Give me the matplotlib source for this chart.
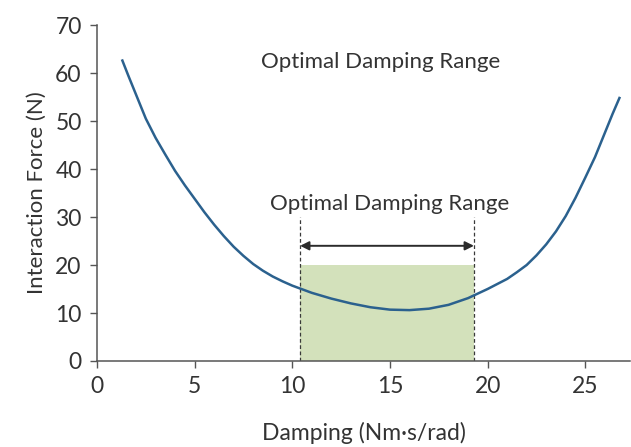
import numpy as np
import matplotlib
matplotlib.use("Agg")
import matplotlib.pyplot as plt

plt.rcParams['font.family'] = ['Lato', 'DejaVu Sans']
plt.rcParams['font.size'] = 14

# values
damping = [1.3, 1.6, 2.0, 2.5, 3.0, 3.5, 4.0, 4.5, 5.0, 5.5, 6.0, 6.5, 7.0,
           7.5, 8.0, 8.5, 9.0, 9.5, 10, 11, 12, 13, 14, 15, 16, 17, 18, 19,
           20, 21, 21.5, 22, 22.5, 23, 23.5, 24, 24.5, 25, 25.5, 26, 26.4, 26.75]
force = [62.6, 59.5, 55.5, 50.5, 46.5, 43.0, 39.6, 36.6, 33.8, 31.0, 28.4,
         26.0, 23.8, 21.9, 20.2, 18.8, 17.6, 16.6, 15.7, 14.2, 13.0, 12.0,
         11.2, 10.7, 10.6, 10.9, 11.7, 13.1, 15.0, 17.1, 18.5, 20.0, 22.0,
         24.3, 27.0, 30.2, 34.0, 38.2, 42.5, 47.5, 51.5, 54.8]
range_lo, range_hi = 10.4, 19.3
box_top = 20
arrow_y = 24
dash_top = 30
label_text = "Optimal Damping Range"

dark = '#3a3a3a'
fig = plt.figure(figsize=(6.31, 4.47), dpi=100)
ax = fig.add_axes([0.1537, 0.1924, 0.845, 0.7516])

ax.fill_between([range_lo, range_hi], 0, box_top, color='#d3e1bb', lw=0, zorder=1)
ax.vlines([range_lo, range_hi], 0, dash_top, colors=dark, linestyles=(0, (3, 2)),
          lw=0.9, zorder=2)
ax.annotate('', xy=(range_lo, arrow_y), xytext=(range_hi, arrow_y),
            arrowprops=dict(arrowstyle='<|-|>', color='#2b2b2b', lw=1.4,
                            mutation_scale=13, shrinkA=0, shrinkB=0))
ax.plot(damping, force, color='#2b618e', lw=1.8, zorder=3)

ax.text(15.0, 30.6, label_text, ha='center', va='bottom', color='#333333', fontsize=16)
ax.text(14.5, 62.2, label_text, ha='center', va='center', color='#333333', fontsize=16)

ax.set_xlim(0, 27.3)
ax.set_ylim(0, 70)
ax.set_xticks([0, 5, 10, 15, 20, 25])
ax.set_yticks(np.arange(0, 71, 10))
for s in ['top', 'right']:
    ax.spines[s].set_visible(False)
for s in ['left', 'bottom']:
    ax.spines[s].set_color('#555555')
    ax.spines[s].set_linewidth(1.1)
ax.tick_params(colors='#555555', labelcolor='#333333', length=5, width=1.0,
               labelsize=16.5, pad=6)
ax.set_xlabel('Damping (Nm·s/rad)', color='#333333', fontsize=16.5, labelpad=18)
ax.set_ylabel('Interaction Force (N)', color='#333333', fontsize=16, labelpad=6)

fig.savefig('out.png', dpi=100)
